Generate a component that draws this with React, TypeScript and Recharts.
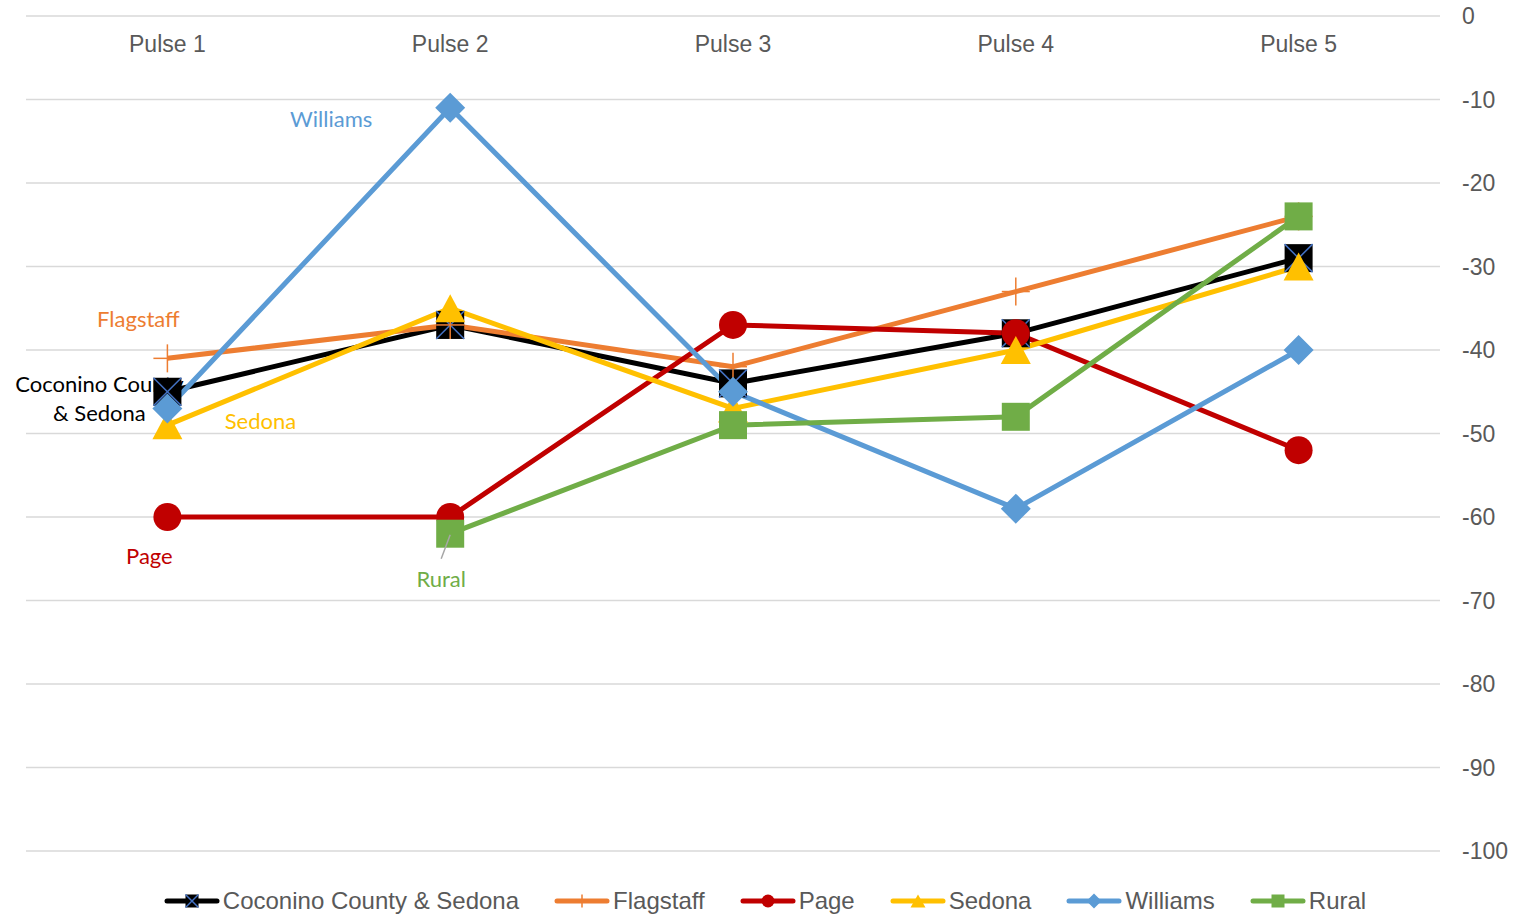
import { LineChart, Line, XAxis, YAxis, CartesianGrid, Legend } from 'recharts';

const PULSES = ['Pulse 1', 'Pulse 2', 'Pulse 3', 'Pulse 4', 'Pulse 5'];
const COCONINO = [-45, -37, -44, -38, -29];
const FLAGSTAFF = [-41, -37, -42, -33, -24];
const PAGE = [-60, -60, -37, -38, -52];
const SEDONA = [-49, -35, -47, -40, -30];
const WILLIAMS = [-47, -11, -45, -59, -40];
const RURAL = [null, -62, -49, -48, -24];
const Y_TICKS = [0, -10, -20, -30, -40, -50, -60, -70, -80, -90, -100];

const DATA = PULSES.map((pulse, i) => ({
    pulse,
    coconino: COCONINO[i],
    flagstaff: FLAGSTAFF[i],
    page: PAGE[i],
    sedona: SEDONA[i],
    williams: WILLIAMS[i],
    rural: RURAL[i],
}));

type Kind = 'xsquare' | 'plus' | 'circle' | 'triangle' | 'diamond' | 'square';

interface SeriesLabel {
    index: number;
    lines: string[];
    dx: number;
    dy: number;
    leader?: boolean;
}

const SERIES: { key: string; name: string; color: string; marker: Kind; label: SeriesLabel }[] = [
    { key: 'coconino', name: 'Coconino County & Sedona', color: '#000000', marker: 'xsquare',
        label: { index: 0, lines: ['Coconino County', '& Sedona'], dx: -68, dy: -9 } },
    { key: 'flagstaff', name: 'Flagstaff', color: '#ED7D31', marker: 'plus',
        label: { index: 0, lines: ['Flagstaff'], dx: -29, dy: -40 } },
    { key: 'page', name: 'Page', color: '#C00000', marker: 'circle',
        label: { index: 0, lines: ['Page'], dx: -18, dy: 38 } },
    { key: 'sedona', name: 'Sedona', color: '#FFC000', marker: 'triangle',
        label: { index: 0, lines: ['Sedona'], dx: 93, dy: -5 } },
    { key: 'williams', name: 'Williams', color: '#5B9BD5', marker: 'diamond',
        label: { index: 1, lines: ['Williams'], dx: -119, dy: 10 } },
    { key: 'rural', name: 'Rural', color: '#70AD47', marker: 'square',
        label: { index: 1, lines: ['Rural'], dx: -9, dy: 44, leader: true } },
];

function Marker({ kind, x, y, s, color }: { kind: Kind; x: number; y: number; s: number; color: string }) {
    const h = s / 2;
    switch (kind) {
        case 'xsquare':
            return (
                <g>
                    <rect x={x - h} y={y - h} width={s} height={s} fill="#000" />
                    <line x1={x - h} y1={y - h} x2={x + h} y2={y + h} stroke="#4472C4" strokeWidth={1.5} />
                    <line x1={x - h} y1={y + h} x2={x + h} y2={y - h} stroke="#4472C4" strokeWidth={1.5} />
                </g>
            );
        case 'plus':
            return (
                <g stroke={color} strokeWidth={1.5}>
                    <line x1={x - h} y1={y} x2={x + h} y2={y} />
                    <line x1={x} y1={y - h} x2={x} y2={y + h} />
                </g>
            );
        case 'circle':
            return <circle cx={x} cy={y} r={h} fill={color} />;
        case 'triangle':
            return <polygon points={`${x},${y - h} ${x - h - 1},${y + h} ${x + h + 1},${y + h}`} fill={color} />;
        case 'diamond':
            return <polygon points={`${x},${y - h - 1} ${x + h + 1},${y} ${x},${y + h + 1} ${x - h - 1},${y}`} fill={color} />;
        default:
            return <rect x={x - h} y={y - h} width={s} height={s} fill={color} />;
    }
}

function makeDot(series: typeof SERIES[number]) {
    return (props: any) => {
        const { cx, cy, index } = props;
        const key = `dot-${series.key}-${index}`;
        if (cx == null || cy == null) return <g key={key} />;
        const lbl = series.label;
        const showLabel = lbl.index === index;
        return (
            <g key={key}>
                {showLabel && (
                    <text
                        x={cx + lbl.dx}
                        y={cy + lbl.dy}
                        textAnchor="middle"
                        dominantBaseline="central"
                        fill={series.color}
                        style={{ fontFamily: 'Lato, sans-serif', fontSize: 22 }}
                    >
                        {lbl.lines.map((t, i) => (
                            <tspan key={t} x={cx + lbl.dx} dy={i === 0 ? 0 : 29}>{t}</tspan>
                        ))}
                    </text>
                )}
                <Marker kind={series.marker} x={cx} y={cy} s={28} color={series.color} />
                {showLabel && lbl.leader && (
                    <line x1={cx} y1={cy + 1} x2={cx - 9} y2={cy + 25} stroke="#A6A6A6" strokeWidth={1.5} />
                )}
            </g>
        );
    };
}

function LegendContent() {
    return (
        <div style={{ display: 'flex', justifyContent: 'center', alignItems: 'center', height: 36, gap: 35, paddingTop: 6, paddingLeft: 16, boxSizing: 'border-box' }}>
            {SERIES.map((s) => (
                <div key={s.key} style={{ display: 'flex', alignItems: 'center' }}>
                    <svg width={56} height={20}>
                        <line x1={3} y1={10} x2={53} y2={10} stroke={s.color} strokeWidth={5} strokeLinecap="round" />
                        <Marker kind={s.marker} x={28} y={10} s={13} color={s.color} />
                    </svg>
                    <span style={{ marginLeft: 3, fontFamily: '"Liberation Sans", Arial, sans-serif', fontSize: 24, color: '#595959' }}>
                        {s.name}
                    </span>
                </div>
            ))}
        </div>
    );
}

export default function App() {
    return (
        <div style={{ position: 'absolute', left: 0, top: 0, width: 1514, height: 916, background: '#fff' }}>
            <LineChart width={1514} height={916} data={DATA} margin={{ top: 16, right: 0, left: 26, bottom: 29 }}>
                <CartesianGrid vertical={false} stroke="#D9D9D9" strokeWidth={1.5} />
                <XAxis
                    dataKey="pulse"
                    orientation="top"
                    scale="band"
                    mirror
                    height={1}
                    axisLine={false}
                    tickLine={false}
                    tickSize={0}
                    tickMargin={20}
                    tick={{ fill: '#595959', fontSize: 23, fontFamily: '"Liberation Sans", Arial, sans-serif' }}
                />
                <YAxis
                    orientation="right"
                    width={74}
                    domain={[-100, 0]}
                    ticks={Y_TICKS}
                    axisLine={false}
                    tickLine={false}
                    tickSize={0}
                    tickMargin={22}
                    tick={{ fill: '#595959', fontSize: 23, fontFamily: '"Liberation Sans", Arial, sans-serif', textAnchor: 'start' }}
                />
                <Legend verticalAlign="bottom" wrapperStyle={{ bottom: 0, left: 0, width: 1514 }} content={<LegendContent />} />
                {SERIES.map((s) => (
                    <Line
                        key={s.key}
                        type="linear"
                        dataKey={s.key}
                        name={s.name}
                        stroke={s.color}
                        strokeWidth={5}
                        dot={makeDot(s)}
                        activeDot={false}
                        isAnimationActive={false}
                    />
                ))}
            </LineChart>
        </div>
    );
}
